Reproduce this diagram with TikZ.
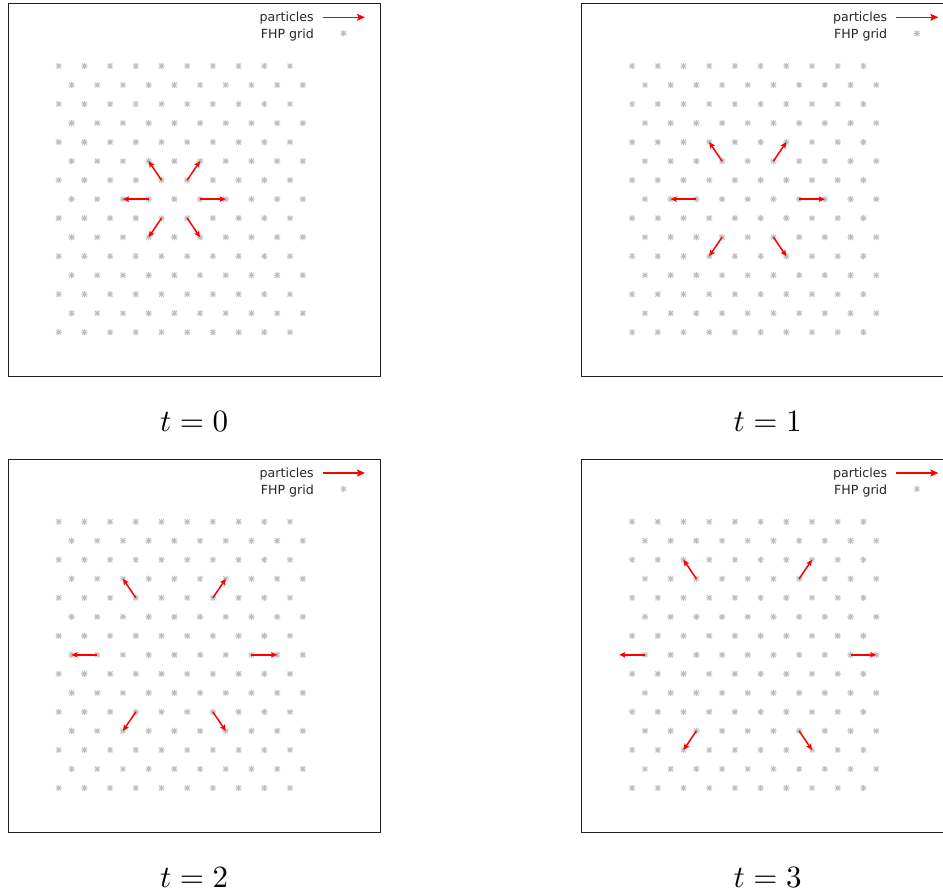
\documentclass[tikz,border=0pt]{standalone}
\usepackage{fontspec}
\DeclareFontShape{OML}{cmm}{m}{it}{<->cmmi10}{}
\DeclareFontShape{OT1}{cmr}{m}{n}{<->cmr10}{}
\DeclareFontShape{OMS}{cmsy}{m}{n}{<->cmsy10}{}
\newfontfamily\legendfont{DejaVu Sans}
\usetikzlibrary{arrows.meta}
\tikzset{
  x=1pt, y=-1pt,
  panelframe/.style={draw=black!88, line width=1pt},
  gridmark/.style={draw=black!26, line width=0.9pt},
  particle/.style={draw=red, line width=1.5pt, -{Stealth[length=6pt,width=5.5pt,inset=1pt]}},
  legendarrow/.style={draw=red, line width=1.5pt, -{Stealth[length=8pt,width=7pt,inset=1.5pt]}},
  legendtxt/.style={font=\legendfont\fontsize{12.6}{14}\selectfont, text=black!85, anchor=base east, inner sep=0pt},
  tlabel/.style={font=\fontsize{31}{36}\selectfont, anchor=base, inner sep=0pt},
  fhpstar/.pic={
    \draw[gridmark] (-3.2,0) -- (3.2,0) (0,-3.2) -- (0,3.2)
      (-2.4,-2.4) -- (2.4,2.4) (-2.4,2.4) -- (2.4,-2.4);
  }
}
\newcommand\FHPpanel[4]{%
  \begin{scope}[shift={(#1,#2)}]
    \draw[panelframe] (8.3,3.3) rectangle (380,376.7);
    \foreach \r in {0,...,14}{
      \pgfmathsetmacro\xo{mod(\r,2)==1 ? 71.55 : 58.7}
      \foreach \k in {0,...,9}{
        \pic at ({\xo+25.7*\k},{66+19.02*\r}) {fhpstar};
      }
    }
    \foreach \dx/\dy in {1/0, 0.5/-1, -0.5/-1, -1/0, -0.5/1, 0.5/1}{
      \draw[particle] ({174.35+(#3+1)*(\dx)*25.7},{199.14+(#3+1)*(\dy)*19.02})
        -- ({174.35+(#3+2)*(\dx)*25.7},{199.14+(#3+2)*(\dy)*19.02});
    }
    \node[legendtxt] (#4-lp) at (314,21.7) {particles};
    \node[legendtxt] (#4-lg) at (314,38.3) {FHP grid};
    \draw[legendarrow] (322.7,17.3) -- (365,17.3);
    \pic at (343.5,33.3) {fhpstar};
    \node[tlabel] (#4-t) at (194.2,431.5) {$t = #3$};
  \end{scope}%
}
\begin{document}
\begin{tikzpicture}
  \useasboundingbox (0,0) rectangle (943,892);
  \clip (0,0) rectangle (943,892);
  \FHPpanel{0}{0}{0}{pa}
  \FHPpanel{573.4}{0}{1}{pb}
  \FHPpanel{0}{455.7}{2}{pc}
  \FHPpanel{573.4}{455.7}{3}{pd}
\end{tikzpicture}
\end{document}
